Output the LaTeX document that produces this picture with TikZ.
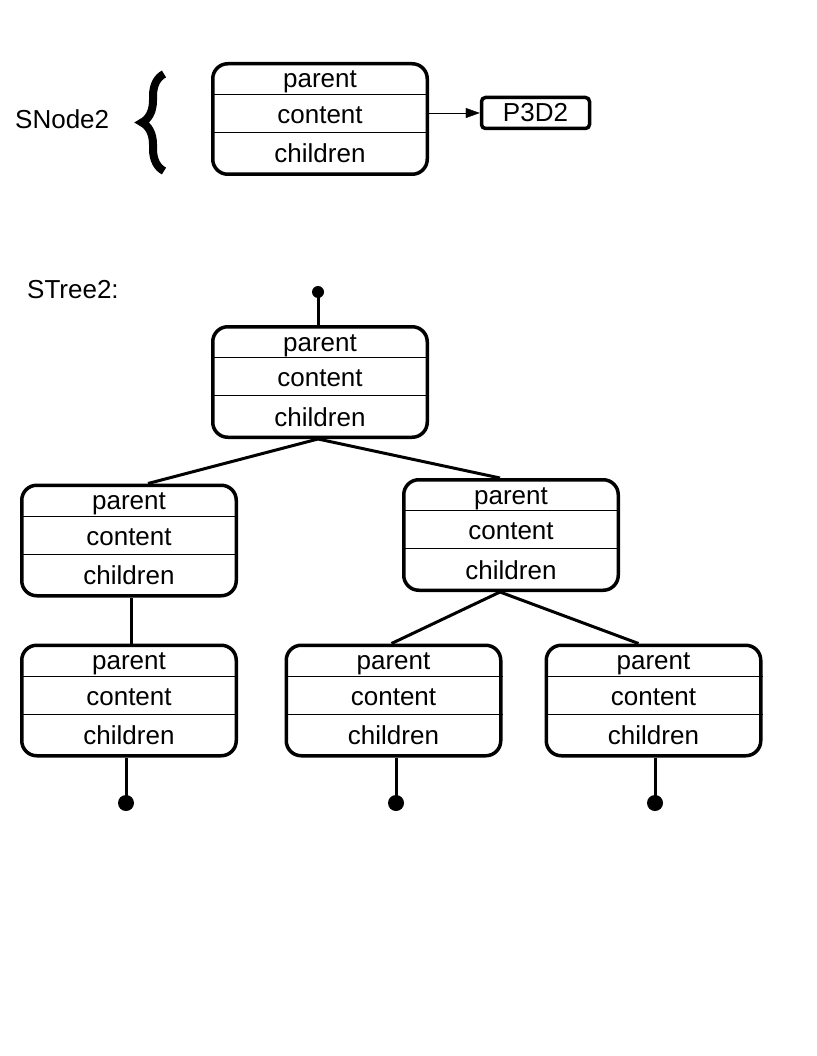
\documentclass[tikz,border=0pt]{standalone}
\usepackage{fontspec}
\setmainfont{Liberation Sans}
\usetikzlibrary{arrows.meta,decorations.pathreplacing}

\begin{document}
\begin{tikzpicture}[x=1pt,y=-1pt]
        \tikzstyle{every node}=[font=\fontsize{26}{30}\selectfont, text=black]
        \tikzstyle{cell}=[draw, line width=3.5pt, rounded corners=15pt, minimum width=214.5pt, minimum height=110.5pt, inner sep=0pt]
        \tikzstyle{field}=[anchor=base, inner sep=0pt]
        \tikzstyle{divider}=[line width=1pt]
        \tikzstyle{branch}=[line width=3pt]

        \useasboundingbox (0,0) rectangle (816,1056);

        % single node
        \node[anchor=west, inner sep=0pt] (snodelbl) at (15,119) {SNode2};
        \draw[decorate, decoration={brace, amplitude=22pt}, line width=8pt] (164,171) -- (164,74);
        \node[cell] (snode) at (320,119) {};
        \node[draw, line width=3.5pt, rounded corners=4pt, minimum width=108pt, minimum height=31pt, inner sep=0pt] (p3d2) at (535.5,113) {P3D2};
        \draw[-{Triangle[length=14pt,width=10pt]}] (p3d2.west -| snode.east) -- (p3d2.west);

        % tree
        \node[anchor=west, inner sep=0pt] (streelbl) at (27,290) {STree2:};
        \node[cell] (root) at (320,382)   {};
        \node[cell] (l1)   at (129,540.5) {};
        \node[cell] (r1)   at (511,535)   {};
        \node[cell] (ll)   at (129,700.5) {};
        \node[cell] (rl)   at (393.5,700.5) {};
        \node[cell] (rr)   at (653.5,700.5) {};

        \foreach \n in {snode,root,l1,r1,ll,rl,rr} {
            \draw[divider] ([yshift=-32.5pt]\n.north west) -- ([yshift=-32.5pt]\n.north east);
            \draw[divider] ([yshift=-70.5pt]\n.north west) -- ([yshift=-70.5pt]\n.north east);
            \node[field] (\n-p)  at ([yshift=-26pt]\n.north) {parent};
            \node[field] (\n-c)  at ([yshift=-61.5pt]\n.north) {content};
            \node[field] (\n-ch) at ([yshift=-101pt]\n.north) {children};
        }

        \coordinate (top) at (318,292);
        \coordinate (endl) at (126,803);
        \coordinate (endm) at (396,803);
        \coordinate (endr) at (655,803);

        \draw[branch] (top) -- (top |- root.north);
        \draw[branch] ([xshift=-2pt]root.south) -- ([xshift=19pt]l1.north);
        \draw[branch] ([xshift=-2pt]root.south) -- ([xshift=-11pt]r1.north);
        \draw[branch] ([xshift=2pt]l1.south) -- ([xshift=2pt]ll.north);
        \draw[branch] ([xshift=-11pt]r1.south) -- ([xshift=-2pt]rl.north);
        \draw[branch] ([xshift=-11pt]r1.south) -- ([xshift=-15pt]rr.north);
        \draw[branch] (endl |- ll.south) -- (endl);
        \draw[branch] (endm |- rl.south) -- (endm);
        \draw[branch] (endr |- rr.south) -- (endr);

        \fill (top) circle (6pt);
        \fill (endl) circle (8pt);
        \fill (endm) circle (8pt);
        \fill (endr) circle (8pt);
\end{tikzpicture}
\end{document}
